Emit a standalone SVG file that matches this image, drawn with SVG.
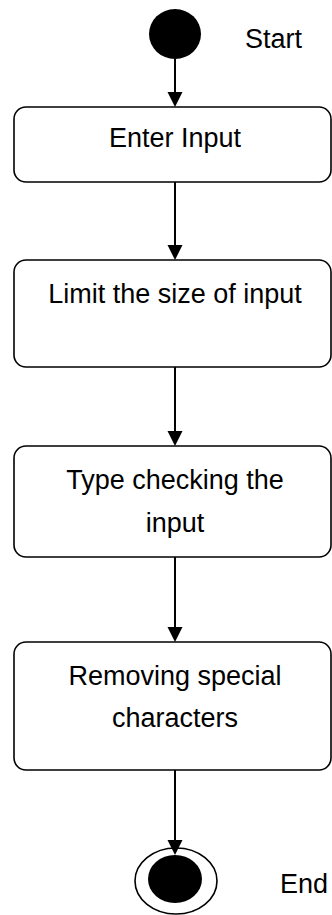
<svg xmlns="http://www.w3.org/2000/svg" width="332" height="915" viewBox="0 0 332 915">
<defs>
<style>
.box{fill:#fff;stroke:#000;stroke-width:1.6}
.t{font-family:"Liberation Sans",Arial,sans-serif;font-size:27px;fill:#000}
.c{text-anchor:middle}
.ln{stroke:#000;stroke-width:2;fill:none}
.hd{fill:#000}
</style>
</defs>
<rect width="332" height="915" fill="#fff"/>
<g id="start">
<ellipse cx="175" cy="34" rx="26" ry="25" fill="#000"/>
<text class="t" x="245" y="48">Start</text>
</g>
<g id="enter-input">
<rect class="box" x="14" y="107" width="317" height="75" rx="12"/>
<text class="t c" x="175" y="147">Enter Input</text>
</g>
<g id="limit-size">
<rect class="box" x="14" y="260" width="317" height="107" rx="12"/>
<text class="t c" x="175" y="303">Limit the size of input</text>
</g>
<g id="type-check">
<rect class="box" x="14" y="446" width="317" height="111" rx="12"/>
<text class="t c" x="175" y="489">Type checking the</text>
<text class="t c" x="175" y="532">input</text>
</g>
<g id="remove-special">
<rect class="box" x="14" y="642" width="317" height="128" rx="12"/>
<text class="t c" x="175" y="685">Removing special</text>
<text class="t c" x="175" y="727">characters</text>
</g>
<g id="end">
<ellipse cx="176" cy="881" rx="41" ry="33" fill="#fff" stroke="#000" stroke-width="1.6"/>
<ellipse cx="175" cy="879" rx="27" ry="24" fill="#000"/>
<text class="t" x="280" y="893">End</text>
</g>
<g id="connectors">
<path class="ln" d="M175,59 V92"/>
<path class="hd" d="M167.5,92 L182.5,92 L175,107 Z"/>
<path class="ln" d="M175,182 V245"/>
<path class="hd" d="M167.5,245 L182.5,245 L175,260 Z"/>
<path class="ln" d="M175,367 V431"/>
<path class="hd" d="M167.5,431 L182.5,431 L175,446 Z"/>
<path class="ln" d="M175,557 V627"/>
<path class="hd" d="M167.5,627 L182.5,627 L175,642 Z"/>
<path class="ln" d="M175,770 V840"/>
<path class="hd" d="M167.5,840 L182.5,840 L175,855 Z"/>
</g>
</svg>
